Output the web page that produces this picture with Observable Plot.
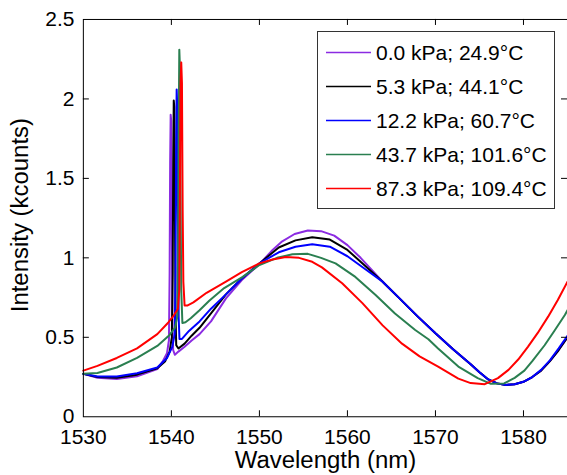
<!DOCTYPE html>
<html><head><meta charset="utf-8">
<script src="https://cdn.jsdelivr.net/npm/d3@7"></script>
<script src="https://cdn.jsdelivr.net/npm/@observablehq/plot@0.6"></script>
<style>
html,body{margin:0;padding:0;background:#fff;overflow:hidden;}
#wrap{position:relative;width:567px;height:475px;overflow:hidden;}
#wrap svg{display:block;}
</style></head><body><div id="wrap"></div>
<script>
const xTicks = [1530, 1540, 1550, 1560, 1570, 1580];
const yTicks = [0, 0.5, 1, 1.5, 2, 2.5];
const seriesLabels = ["0.0 kPa; 24.9°C", "5.3 kPa; 44.1°C", "12.2 kPa; 60.7°C", "43.7 kPa; 101.6°C", "87.3 kPa; 109.4°C"];
const seriesColors = ["#8b2be2", "#000000", "#0000ff", "#2a7f50", "#ff0000"];

const wl0 = [1530,1531.6,1533.8,1536.1,1538.4,1539.0,1539.5,1539.72,1539.8,1539.86,1539.92,1539.98,1540.05,1540.12,1540.2,1540.4,1540.8,1541.5,1542.3,1543.2,1544.5,1546.2,1548,1550,1551.5,1552.5,1554,1555.5,1557,1558.5,1560,1561.5,1563,1564,1566,1568,1570,1572,1574,1575,1576,1577,1578,1579,1580,1581,1582,1583,1584,1585];
const int0 = [0.27,0.245,0.237,0.255,0.30,0.347,0.40,0.48,0.9,1.6,1.90,1.86,1.2,0.6,0.42,0.39,0.41,0.44,0.48,0.52,0.60,0.745,0.86,0.96,1.05,1.10,1.15,1.172,1.168,1.14,1.08,1.0,0.91,0.85,0.74,0.63,0.525,0.425,0.33,0.28,0.235,0.21,0.2,0.205,0.22,0.25,0.29,0.35,0.42,0.50];

const wl1 = [1530,1531.6,1533.8,1536.1,1538.4,1539.3,1539.8,1540.05,1540.15,1540.21,1540.27,1540.33,1540.4,1540.47,1540.55,1540.8,1541.5,1542.3,1543.2,1544.5,1546.2,1548,1550,1552.2,1554.1,1556,1558,1560,1562,1564,1566,1568,1570,1572,1574,1575,1576,1577,1578,1579,1580,1581,1582,1583,1584,1585];
const int1 = [0.27,0.25,0.245,0.265,0.305,0.35,0.41,0.5,0.9,1.6,1.99,1.95,1.3,0.65,0.45,0.43,0.46,0.51,0.56,0.65,0.77,0.87,0.965,1.065,1.11,1.13,1.115,1.05,0.95,0.85,0.74,0.63,0.525,0.425,0.33,0.28,0.235,0.21,0.2,0.205,0.22,0.25,0.29,0.35,0.42,0.50];

const wl2 = [1530,1531.6,1533.8,1536.1,1538.4,1539.5,1540.1,1540.38,1540.47,1540.54,1540.6,1540.67,1540.75,1540.83,1540.92,1541.2,1542,1543.2,1544.5,1546.2,1548,1550,1552.2,1554.1,1556,1558,1560,1562,1564,1566,1568,1570,1572,1574,1575,1576,1577,1578,1579,1580,1581,1582,1583,1584,1585];
const int2 = [0.27,0.253,0.253,0.274,0.31,0.37,0.44,0.52,0.9,1.7,2.06,1.95,1.2,0.62,0.49,0.49,0.54,0.60,0.68,0.77,0.87,0.965,1.035,1.07,1.085,1.07,1.01,0.93,0.85,0.74,0.63,0.525,0.425,0.33,0.28,0.235,0.21,0.2,0.205,0.22,0.25,0.295,0.355,0.43,0.51];

const wl3 = [1530,1531.6,1533.8,1536.1,1538.4,1539.8,1540.4,1540.68,1540.76,1540.83,1540.9,1540.97,1541.04,1541.12,1541.25,1541.6,1542.2,1543.2,1544.3,1546,1548.1,1550,1552,1553.75,1555.5,1557,1558.65,1560.9,1563.2,1565.4,1567.7,1569.2,1570.3,1572.6,1574.8,1576.3,1577.8,1579,1580.1,1581,1582.4,1583.5,1584.7,1585];
const int3 = [0.27,0.275,0.31,0.37,0.446,0.515,0.56,0.63,1.0,1.8,2.31,2.2,1.4,0.8,0.59,0.595,0.62,0.67,0.73,0.81,0.88,0.955,1.0,1.022,1.025,1.0,0.965,0.88,0.766,0.65,0.546,0.488,0.43,0.316,0.243,0.207,0.21,0.245,0.29,0.35,0.45,0.54,0.64,0.67];

const wl4 = [1530,1531.6,1533.8,1536.1,1538.4,1539.6,1540.3,1540.75,1540.9,1540.98,1541.05,1541.12,1541.2,1541.28,1541.36,1541.5,1541.8,1542.5,1544,1546.2,1548,1550,1551.5,1553,1554.5,1556,1557.1,1559.4,1561.7,1564,1566.2,1568.2,1570.3,1572.6,1574,1575.6,1577.1,1578.3,1579.4,1580.5,1581.6,1582.8,1583.9,1585];
const int4 = [0.29,0.32,0.37,0.43,0.52,0.59,0.64,0.68,0.8,1.5,2.1,2.23,2.1,1.3,0.85,0.70,0.70,0.72,0.78,0.85,0.91,0.965,0.99,1.005,1.0,0.975,0.94,0.84,0.715,0.575,0.46,0.38,0.315,0.24,0.212,0.205,0.243,0.295,0.36,0.44,0.526,0.63,0.735,0.85];

const wls = [wl0, wl1, wl2, wl3, wl4];
const ints = [int0, int1, int2, int3, int4];
const rows = [];
seriesLabels.forEach((s, i) => wls[i].forEach((x, j) => rows.push({series: s, x, y: ints[i][j]})));

const W = 568, H = 475, mL = 83, mR = 0, mT = 19, mB = 58;
const fw = W - mL - mR, fh = H - mT - mB, tl = 6;
const font = "'Liberation Sans', Arial, Helvetica, sans-serif";

const chart = Plot.plot({
  width: W, height: H,
  marginLeft: mL, marginRight: mR, marginTop: mT, marginBottom: mB,
  style: {fontFamily: font, fontSize: "21px", color: "#000", background: "#fff", overflow: "visible"},
  x: {domain: [1530, 1585]},
  y: {domain: [0, 2.5]},
  color: {domain: seriesLabels, range: seriesColors},
  marks: [
    Plot.line(rows, {x: "x", y: "y", z: "series", stroke: "series", strokeWidth: 2, strokeLinejoin: "round"}),
    Plot.frame({stroke: "#000", strokeWidth: 1}),
    Plot.tickX(xTicks.slice(1), {x: d => d, stroke: "#000", insetTop: fh - tl}),
    Plot.tickX(xTicks.slice(1), {x: d => d, stroke: "#000", insetBottom: fh - tl}),
    Plot.tickY(yTicks.slice(1, -1), {y: d => d, stroke: "#000", insetRight: fw - tl}),
    Plot.tickY(yTicks.slice(1, -1), {y: d => d, stroke: "#000", insetLeft: fw - tl}),
    Plot.axisX(xTicks, {tickSize: 0, tickPadding: 12, tickFormat: d => String(d), label: null, fontSize: 21}),
    Plot.axisY(yTicks, {tickSize: 0, tickPadding: 9, tickFormat: d => String(d), label: null, fontSize: 21}),
    Plot.text(["Wavelength (nm)"], {frameAnchor: "bottom", dy: 51, fontSize: 24, fill: "#000", lineAnchor: "bottom"}),
    Plot.text(["Intensity (kcounts)"], {frameAnchor: "left", dx: -63, dy: -3, rotate: -90, textAnchor: "middle", lineAnchor: "middle", fontSize: 24, fill: "#000"})
  ]
});
const wrap = document.getElementById("wrap");
wrap.appendChild(chart);

// legend overlay
const leg = d3.select(wrap).append("svg")
  .attr("width", 567).attr("height", 475)
  .style("position", "absolute").style("left", "0px").style("top", "0px")
  .style("font-family", font).style("font-size", "21px");
leg.append("rect").attr("x", 317.5).attr("y", 31.5).attr("width", 237).attr("height", 177)
  .attr("fill", "#fff").attr("stroke", "#333").attr("stroke-width", 1);
seriesLabels.forEach((s, i) => {
  const cy = 52.5 + i * 34;
  leg.append("line").attr("x1", 326).attr("x2", 371).attr("y1", cy).attr("y2", cy)
    .attr("stroke", seriesColors[i]).attr("stroke-width", 1.5);
  leg.append("text").attr("x", 376).attr("y", cy).attr("dy", "0.36em").attr("fill", "#000").text(s);
});
</script></body></html>
